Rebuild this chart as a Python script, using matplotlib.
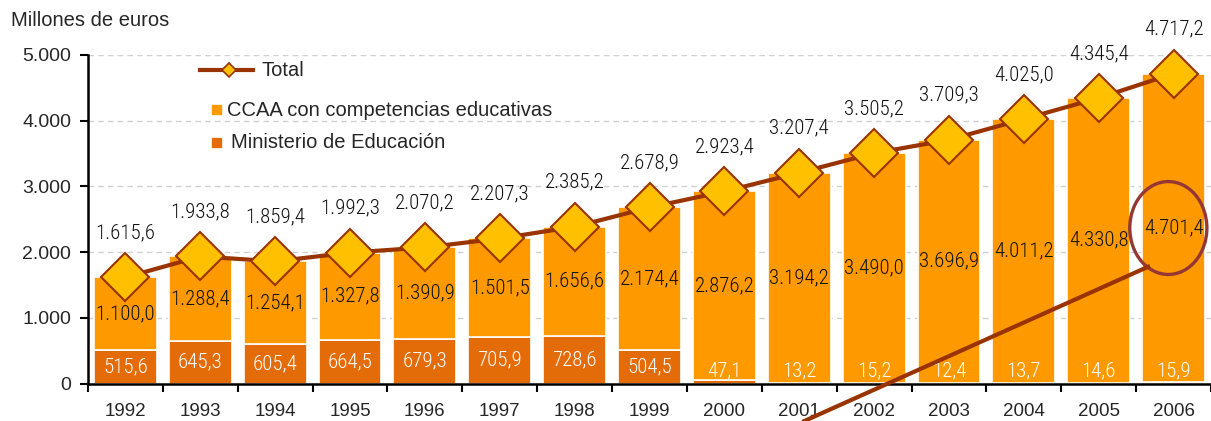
import matplotlib
matplotlib.use("Agg")
import matplotlib.pyplot as plt
from matplotlib.patches import Ellipse, Rectangle
from matplotlib.lines import Line2D
import numpy as np

years = ["1992", "1993", "1994", "1995", "1996", "1997", "1998", "1999",
         "2000", "2001", "2002", "2003", "2004", "2005", "2006"]
ministerio = [515.6, 645.3, 605.4, 664.5, 679.3, 705.9, 728.6, 504.5,
              47.1, 13.2, 15.2, 12.4, 13.7, 14.6, 15.9]
ccaa = [1100.0, 1288.4, 1254.1, 1327.8, 1390.9, 1501.5, 1656.6, 2174.4,
        2876.2, 3194.2, 3490.0, 3696.9, 4011.2, 4330.8, 4701.4]
total = [1615.6, 1933.8, 1859.4, 1992.3, 2070.2, 2207.3, 2385.2, 2678.9,
         2923.4, 3207.4, 3505.2, 3709.3, 4025.0, 4345.4, 4717.2]
yticks = [0, 1000, 2000, 3000, 4000, 5000]

C_MIN = "#E36C09"
C_CCAA = "#FF9900"
C_LINE = "#993300"
C_DIAM = "#FFC000"
C_ELL = "#953735"
C_TXT = "#262626"

def fmt(v, dec=1):
    s = f"{v:,.{dec}f}"
    return s.replace(",", "X").replace(".", ",").replace("X", ".")

NARROW = ["Roboto Condensed", "DejaVu Sans"]
SANS = ["Liberation Sans", "DejaVu Sans"]
NW = 300

W, H = 1211, 421
fig = plt.figure(figsize=(W / 100, H / 100), dpi=100)
ax = fig.add_axes([88 / W, 37.5 / H, (1211 - 88) / W, (383.5 - 55) / H])

x = np.arange(len(years))
bw = 0.84
ax.bar(x, ministerio, width=bw, color=C_MIN, edgecolor="white", linewidth=1.2, zorder=2)
ax.bar(x, ccaa, bottom=ministerio, width=bw, color=C_CCAA, edgecolor="white", linewidth=1.2, zorder=2)
ax.plot(x, total, color=C_LINE, lw=3, marker="D", ms=24, mfc=C_DIAM, mec=C_LINE,
        mew=1.5, zorder=4, clip_on=False)

for i in range(len(years)):
    ax.text(x[i], max(ministerio[i] / 2, 185), fmt(ministerio[i]), ha="center", va="center",
            color="white", fontsize=15, family=NARROW, fontweight=NW, zorder=5)
    ax.text(x[i], ministerio[i] + ccaa[i] / 2, fmt(ccaa[i]), ha="center", va="center",
            color="#111111", fontsize=15, family=NARROW, fontweight=NW, zorder=5)
    ax.annotate(fmt(total[i]), (x[i], total[i]), xytext=(0, 32), textcoords="offset points",
                ha="center", va="center", color="#111111", fontsize=15, family=NARROW,
                fontweight=NW, zorder=5, annotation_clip=False)

ax.set_xlim(-0.5, len(years) - 0.5)
ax.set_ylim(0, 5000)
ax.set_yticks(yticks)
ax.set_yticklabels([fmt(v, 0) for v in yticks], fontsize=14, family=SANS, color=C_TXT)
ax.set_xticks(x)
ax.set_xticklabels(years, fontsize=13.5, family=SANS, color=C_TXT)
ax.set_xticks(np.arange(-0.5, len(years), 1), minor=True)
ax.tick_params(axis="x", which="major", length=0, pad=14)
ax.tick_params(axis="x", which="minor", length=6, width=1.5, direction="out")
ax.tick_params(axis="y", length=6, width=1.5, direction="out", pad=6)
for s in ["top", "right"]:
    ax.spines[s].set_visible(False)
ax.spines["left"].set_linewidth(1.8)
ax.spines["bottom"].set_linewidth(1.8)
ax.yaxis.grid(True, color="#D0D0D0", ls=(0, (4, 3)), lw=1)
ax.set_axisbelow(True)

# highlight ellipse and pointer line
ex, ey = x[-1] - 0.07, ministerio[-1] + ccaa[-1] / 2
ax.add_patch(Ellipse((ex, ey), 1.03, 1414, fill=False, ec=C_ELL, lw=2.4, zorder=6, clip_on=False))
ax.add_line(Line2D([9.07, ex - 0.27], [-570, ey - 590], color=C_LINE, lw=3, zorder=6, clip_on=False))

# unit label
fig.text(11 / W, 1 - 21 / H, "Millones de euros", fontsize=14.5, family=SANS, va="center",
         ha="left", color=C_TXT)

# legend (manual)
def fx(px):
    return px / W

def fy(py):
    return 1 - py / H

fig.add_artist(Line2D([fx(200), fx(253)], [fy(70), fy(70)], color=C_LINE, lw=3,
                      transform=fig.transFigure))
fig.add_artist(Line2D([fx(228.5)], [fy(70)], marker="D", ms=7, mfc=C_DIAM, mec=C_LINE,
                      mew=1.2, transform=fig.transFigure))
fig.text(fx(261), fy(70), "Total", fontsize=14.5, family=SANS, va="center", ha="left", color=C_TXT)
fig.add_artist(Rectangle((fx(212), fy(114)), 9 / W, 9 / H, color=C_CCAA, transform=fig.transFigure))
fig.text(fx(227), fy(110), "CCAA con competencias educativas", fontsize=14.5, family=SANS,
         va="center", ha="left", color=C_TXT)
fig.add_artist(Rectangle((fx(212), fy(147)), 9 / W, 9 / H, color=C_MIN, transform=fig.transFigure))
fig.text(fx(231), fy(142), "Ministerio de Educación", fontsize=14.5, family=SANS,
         va="center", ha="left", color=C_TXT)

fig.savefig("out.png", dpi=100)
